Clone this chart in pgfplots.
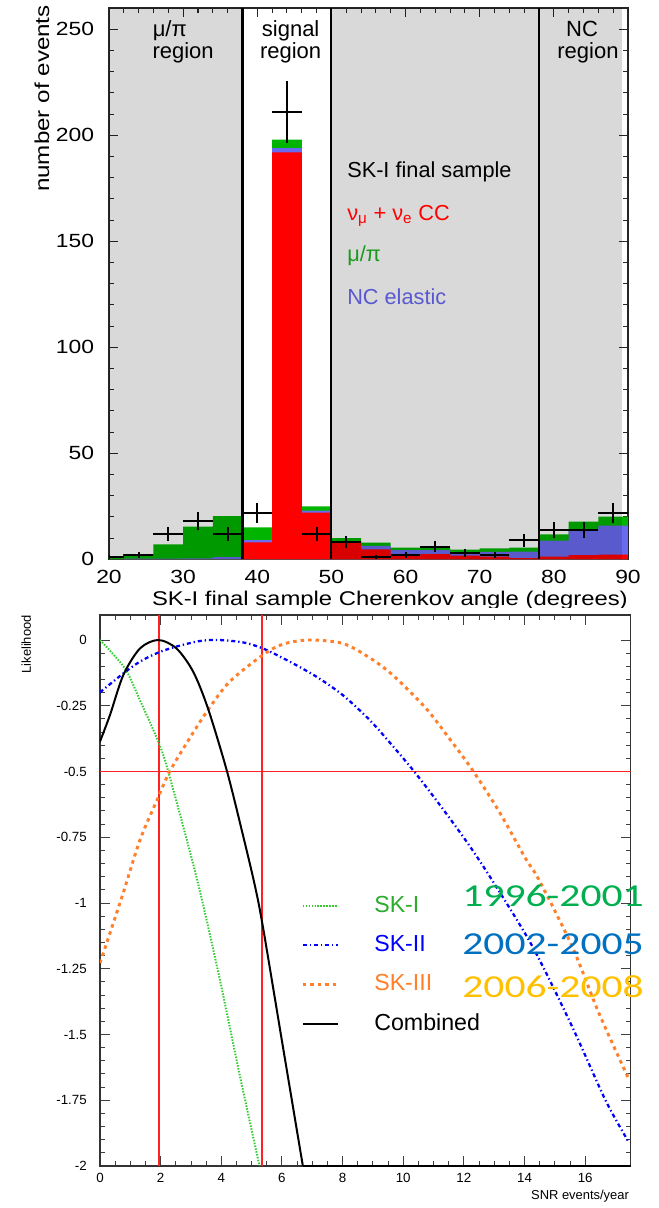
\documentclass[border=0pt]{standalone}
\usepackage{fontspec}
\setmainfont{Liberation Sans}
\newfontfamily\tickfont{Liberation Sans}[FakeStretch=1.2]
\newfontfamily\yearfont{Carlito}[FakeStretch=1.3]
\usepackage{pgfplots}
\pgfplotsset{compat=1.18}

\definecolor{ccred}{HTML}{FF0000}
\definecolor{mupigreen}{HTML}{00B400}
\definecolor{ncblue}{HTML}{6A6AF0}
\definecolor{txtgreen}{HTML}{1A9A1A}
\definecolor{txtblue}{HTML}{5858D0}
\definecolor{skone}{HTML}{33CC33}
\definecolor{sktwo}{HTML}{0000FF}
\definecolor{skthree}{HTML}{FF7F2A}
\definecolor{limitred}{HTML}{FF2020}
\definecolor{yrgreen}{HTML}{00B050}
\definecolor{yrblue}{HTML}{0070C0}
\definecolor{yrgold}{HTML}{FFC000}

\begin{document}
\begin{tikzpicture}
\path[use as bounding box] (0pt,0pt) rectangle (494.25pt,906pt);

% ---------------- top: Cherenkov angle histogram ----------------
\begin{axis}[
  at={(81.75pt,486.5pt)}, anchor=south west,
  scale only axis, width=389.25pt, height=413.4pt,
  xmin=20, xmax=90, ymin=0, ymax=260,
  clip mode=individual,
  axis line style={line width=1pt, black!85},
  xtick={20,30,...,90}, minor x tick num=4,
  ytick={0,50,...,250}, minor y tick num=4,
  major tick length=6.75pt, minor tick length=3.75pt,
  tick style={line width=0.8pt, black!85},
  tick align=inside,
  /pgf/number format/assume math mode=true,
  tick label style={font=\tickfont\fontsize{14.3}{16}\selectfont, inner sep=0pt},
  yticklabel style={xshift=-11pt},
  xticklabel style={yshift=-8pt},
]
% mu/pi on top (cumulative total)
\addplot[const plot, fill=mupigreen, draw=none] coordinates {
 (20,1)(22,2)(26,7)(30,15.4)(34,20.4)(38,15.1)(42,198)(46,25)(50,10)
 (54,7.9)(58,5.5)(62,5.7)(66,4.6)(70,5.2)(74,5.5)(78,11.8)(82,17.8)(86,20.1)(90,20.1)} \closedcycle;
% NC elastic (cumulative CC + NC)
\addplot[const plot, fill=ncblue, draw=none] coordinates {
 (20,0)(22,0.3)(26,0.3)(30,0.5)(34,1)(38,9)(42,194)(46,23)(50,8.5)
 (54,6.3)(58,4.4)(62,4.4)(66,3.3)(70,3.5)(74,3.6)(78,8.8)(82,14.2)(86,15.9)(90,15.9)} \closedcycle;
% nu_mu + nu_e CC
\addplot[const plot, fill=ccred, draw=none] coordinates {
 (20,0)(22,0)(26,0)(30,0)(34,0)(38,8)(42,192)(46,22)(50,8)
 (54,4.7)(58,1.7)(62,2.4)(66,1.7)(70,1.3)(74,0.6)(78,1.3)(82,2)(86,2.2)(90,2.2)} \closedcycle;
% shaded regions
\addplot[draw=none, fill=black, fill opacity=0.15] coordinates {(20,260)(38,260)} \closedcycle;
\addplot[draw=none, fill=black, fill opacity=0.15] coordinates {(50,260)(89.2,260)} \closedcycle;
% region boundaries
\addplot[black, line width=1.6pt] coordinates {(38,0)(38,260)};
\addplot[black, line width=1.6pt] coordinates {(50,0)(50,260)};
\addplot[black, line width=1.6pt] coordinates {(78,0)(78,260)};
% data
\addplot[draw=none, mark=none,
  error bars/.cd, x dir=both, x explicit, y dir=both, y explicit,
  error mark=none, error bar style={draw=black, solid, line width=1.5pt}]
 coordinates {
 (20,1) +- (2,1)
 (24,2) +- (2,1.41)
 (28,12) +- (2,3.46)
 (32,18) +- (2,4.24)
 (36,12) +- (2,3.46)
 (40,22) +- (2,4.69)
 (44,211) +- (2,14.53)
 (48,12) +- (2,3.46)
 (52,8) +- (2,2.83)
 (56,1) +- (2,1)
 (60,2) +- (2,1.41)
 (64,6) +- (2,2.45)
 (68,3) +- (2,1.73)
 (72,2) +- (2,1.41)
 (76,9) +- (2,3)
 (80,14) +- (2,3.74)
 (84,14) +- (2,3.74)
 (88,22) +- (2,4.69)};

\begin{scope}[every node/.style={font=\fontsize{16.5}{19}\selectfont, inner sep=0pt}]
\node[anchor=base] at (axis cs:28.2,246.6) {μ/π};
\node[anchor=base] at (axis cs:30.0,236.3) {region};
\node[anchor=base] at (axis cs:44.5,246.6) {signal};
\node[anchor=base] at (axis cs:44.5,236.3) {region};
\node[anchor=base] at (axis cs:83.8,246.6) {NC};
\node[anchor=base] at (axis cs:84.6,236.3) {region};
\end{scope}
\begin{scope}[every node/.style={font=\fontsize{16.3}{19}\selectfont, inner sep=0pt, anchor=base west}]
\node at (axis cs:52.1,180.2) {SK-I final sample};
\node[text=ccred] at (axis cs:52.1,160) {ν\textsubscript{μ} + ν\textsubscript{e} CC};
\node[text=txtgreen] at (axis cs:52.1,140.4) {μ/π};
\node[text=txtblue] at (axis cs:52.1,120.2) {NC elastic};
\end{scope}
\node[rotate=90, anchor=east, inner sep=0pt, font=\tickfont\fontsize{15.1}{18}\selectfont]
  at (axis cs:10.96,261.5) {number of events};
\node[anchor=base east, inner sep=0pt, font=\tickfont\fontsize{14.9}{18}\selectfont]
  at (axis cs:90,-22) {SK-I final sample Cherenkov angle (degrees)};
\end{axis}

\fill[white] (0pt,0pt) rectangle (494.25pt,450pt);

% ---------------- bottom: likelihood curves ----------------
\begin{axis}[
  at={(75pt,31.5pt)}, anchor=south west,
  scale only axis, width=398pt, height=413.25pt,
  xmin=0, xmax=17.5, ymin=-2, ymax=0.095,
  clip mode=individual,
  axis line style={line width=0.9pt, black!80},
  xtick={0,2,...,16}, minor x tick num=3,
  ytick={-2,-1.75,-1.5,-1.25,-1,-0.75,-0.5,-0.25,0},
  yticklabels={-2,-1.75,-1.5,-1.25,-1,-0.75,-0.5,-0.25,0},
  minor y tick num=4,
  major tick length=7.5pt, minor tick length=3.75pt,
  tick style={line width=0.7pt, black!75},
  tick align=inside,
  /pgf/number format/assume math mode=true,
  tick label style={font=\fontsize{10}{12}\selectfont, inner sep=0pt},
  yticklabel style={xshift=-9.75pt},
  xticklabel style={yshift=-5.25pt},
  legend style={at={(axis cs:6.64,-0.972)}, anchor=north west,
    draw=none, fill=none, inner sep=0pt, outer sep=0pt, row sep=14pt,
    font=\fontsize{17.4}{20}\selectfont,
    nodes={inner sep=0pt, text height=12.5pt, text depth=3pt},
    /tikz/every odd column/.append style={column sep=26.25pt}},
  legend cell align=left,
  legend image code/.code={\draw[#1] (0pt,0pt) -- (26.25pt,0pt);},
]
\addplot[draw=limitred, line width=1.1pt, forget plot] coordinates {(1.94,-2)(1.94,0.095)};
\addplot[draw=limitred, line width=1.1pt, forget plot] coordinates {(5.34,-2)(5.34,0.095)};
\draw[limitred, line width=1.1pt] (axis cs:0,-0.5) -- (axis cs:17.5,-0.5);

\addplot[skone, line width=1.5pt, dash pattern=on 1.1pt off 1.1pt, smooth] coordinates {
 (0,0)(0.82,-0.108)(1.32,-0.23)(1.92,-0.386)(2.25,-0.5)(3.2,-0.91)
 (3.95,-1.29)(4.6,-1.65)(5.26,-2.0)};
\addlegendentry{\textcolor{skone!85!black}{SK-I}}
\addplot[sktwo, line width=1.7pt, dash pattern=on 3pt off 2.2pt on 1pt off 2.2pt, smooth] coordinates {
 (0,-0.199)(0.77,-0.127)(1.32,-0.082)(1.92,-0.048)(2.52,-0.025)(3.29,-0.004)
 (3.9,0)(4.71,-0.009)(5.37,-0.032)(6.25,-0.082)(7.13,-0.139)(8.0,-0.209)
 (8.83,-0.297)(9.43,-0.373)(10.36,-0.5)(11.29,-0.64)(12.17,-0.78)(12.94,-0.915)
 (14.26,-1.165)(15.57,-1.47)(16.67,-1.75)(17.44,-1.91)};
\addlegendentry{\textcolor{sktwo}{SK-II}}
\addplot[skthree, line width=2.2pt, dash pattern=on 2.6pt off 3pt, smooth] coordinates {
 (0,-1.228)(0.33,-1.114)(0.77,-0.96)(1.32,-0.76)(1.86,-0.614)(2.3,-0.5)
 (2.96,-0.373)(3.56,-0.266)(4.28,-0.158)(5.37,-0.057)(6.03,-0.016)(6.9,0)
 (8.0,-0.013)(8.83,-0.063)(9.65,-0.133)(10.75,-0.26)(11.51,-0.373)(12.28,-0.494)
 (13.16,-0.652)(14.03,-0.83)(14.47,-0.911)(15.57,-1.165)(16.45,-1.418)(17.44,-1.67)};
\addlegendentry{\textcolor{skthree}{SK-III}}
\addplot[black, line width=1.5pt, smooth] coordinates {
 (0,-0.386)(0.33,-0.285)(0.77,-0.133)(1.32,-0.032)(1.92,0)(2.52,-0.032)
 (3.07,-0.12)(3.56,-0.26)(4.19,-0.5)(4.71,-0.74)(5.1,-0.93)(5.37,-1.089)
 (6.03,-1.545)(6.69,-2.0)};
\addlegendentry{Combined}
\addplot[black, line width=1.5pt, forget plot] coordinates {(6.69,-2)(17.5,-2)};

\node[anchor=base west, inner sep=0pt, font=\yearfont\fontsize{24}{28}\selectfont, text=yrgreen]
  at (axis cs:11.94,-1.013) {1996-2001};
\node[anchor=base west, inner sep=0pt, font=\yearfont\fontsize{24}{28}\selectfont, text=yrblue]
  at (axis cs:11.94,-1.196) {2002-2005};
\node[anchor=base west, inner sep=0pt, font=\yearfont\fontsize{24}{28}\selectfont, text=yrgold]
  at (axis cs:11.94,-1.36) {2006-2008};

\node[rotate=90, anchor=east, inner sep=0pt, font=\fontsize{9.7}{12}\selectfont]
  at (axis cs:-2.43,0.095) {Likelihood};
\node[anchor=east, inner sep=0pt, font=\fontsize{9.7}{12}\selectfont]
  at (axis cs:17.45,-2.115) {SNR events/year};
\end{axis}
\end{tikzpicture}
\end{document}
